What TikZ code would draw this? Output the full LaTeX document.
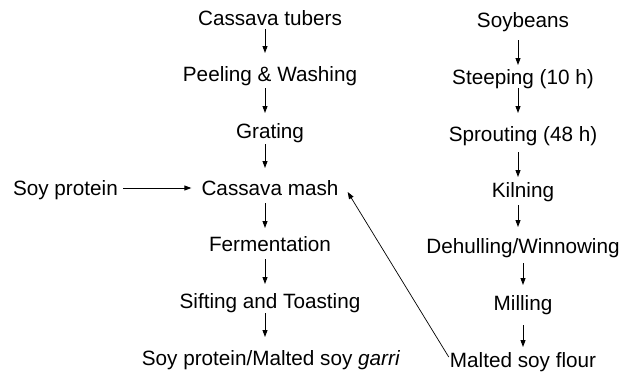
\documentclass[tikz,border=0pt]{standalone}
\usepackage{fontspec}
\setmainfont{Liberation Sans}
\usetikzlibrary{arrows.meta}
\begin{document}
\begin{tikzpicture}[x=1pt,y=-1pt,
  lbl/.style={anchor=base,inner sep=0pt,text height=15pt,text depth=4.5pt,font=\fontsize{20.7}{24}\selectfont},
  arr/.style={line width=0.9pt,-{Triangle[length=7pt,width=5pt]}},
  thinarr/.style={line width=0.7pt,-{Triangle[length=7pt,width=5pt]}}]
\useasboundingbox (0,0) rectangle (631,373);
% left column
\node[lbl] (ct) at (270,25) {Cassava tubers};
\node[lbl] (pw) at (270,81.7) {Peeling \& Washing};
\node[lbl] (gr) at (270,138.3) {Grating};
\node[lbl] (cm) at (270,195) {Cassava mash};
\node[lbl] (fe) at (270,251.7) {Fermentation};
\node[lbl] (st) at (270,308.3) {Sifting and Toasting};
\node[lbl] (pr) at (271,365) {Soy protein/Malted soy \textit{garri}};
\node[lbl,anchor=base east] (sp) at (118,195) {Soy protein};
% right column
\node[lbl] (sb) at (523,27) {Soybeans};
\node[lbl] (se) at (523,84.5) {Steeping (10 h)};
\node[lbl] (so) at (523,141) {Sprouting (48 h)};
\node[lbl] (ki) at (523,197) {Kilning};
\node[lbl] (de) at (523,253.5) {Dehulling/Winnowing};
\node[lbl] (mi) at (523,310.3) {Milling};
\node[lbl] (ms) at (523,367) {Malted soy flour};
% left arrows
\draw[arr] ([shift={(-5,4)}]ct.base) -- ([shift={(-5,-28.7)}]pw.base);
\draw[arr] ([shift={(-5,6.3)}]pw.base) -- ([shift={(-5,-25.3)}]gr.base);
\draw[arr] ([shift={(-5,5.7)}]gr.base) -- ([shift={(-5,-27)}]cm.base);
\draw[arr] ([shift={(-5,8)}]cm.base) -- ([shift={(-5,-23.7)}]fe.base);
\draw[arr] ([shift={(-5,7.3)}]fe.base) -- ([shift={(-5,-24.3)}]st.base);
\draw[arr] ([shift={(-5,4.7)}]st.base) -- ([shift={(-6,-28)}]pr.base);
% right arrows
\draw[arr] ([shift={(-5,13)}]sb.base) -- ([shift={(-5,-19.5)}]se.base);
\draw[arr] ([shift={(-5,3.5)}]se.base) -- ([shift={(-5,-28)}]so.base);
\draw[arr] ([shift={(-5,11)}]so.base) -- ([shift={(-5,-20)}]ki.base);
\draw[arr] ([shift={(-5,8)}]ki.base) -- ([shift={(-5,-26.5)}]de.base);
\draw[arr] ([shift={(0,9.5)}]de.base) -- ([shift={(0,-25.3)}]mi.base);
\draw[arr] ([shift={(0,14.7)}]mi.base) -- ([shift={(0,-20)}]ms.base);
% side arrows
\draw[arr] ([shift={(5,-7)}]sp.base east) -- ([shift={(-10,-7)}]cm.base west);
\draw[thinarr] ([shift={(-1,-10)}]ms.base west) -- ([shift={(9,-3)}]cm.base east);
\end{tikzpicture}
\end{document}
